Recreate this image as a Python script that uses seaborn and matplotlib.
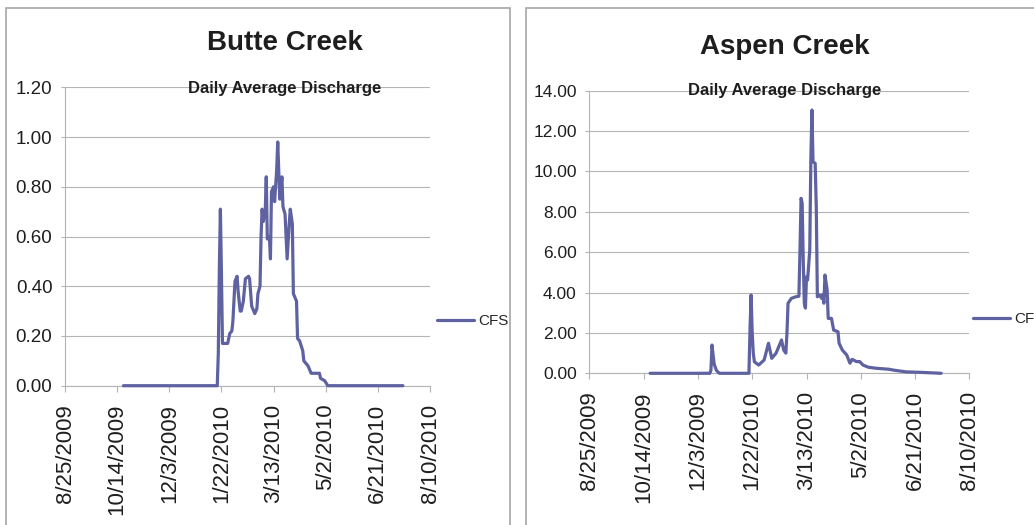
import matplotlib
matplotlib.use('Agg')
import matplotlib.pyplot as plt
from matplotlib.patches import Rectangle
import seaborn as sns
import pandas as pd

# dias desde el 8/25/2009 y caudal medio diario (CFS)
start = pd.Timestamp('2009-08-25')

butte_day = [56, 146, 147, 148, 149, 150, 151, 156, 158, 160, 161, 163, 165, 166, 168,
             169, 171, 173, 176, 177, 179, 182, 184, 185, 187, 188, 189, 190, 192, 193,
             194, 196, 197, 198, 200, 201, 203, 204, 205, 206, 208, 209, 211, 213, 215,
             216, 218, 219, 222, 223, 225, 228, 229, 233, 236, 244, 245, 249, 252, 324]
butte_cfs = [0.00, 0.00, 0.13, 0.47, 0.71, 0.45, 0.17, 0.17, 0.21, 0.22, 0.26, 0.42, 0.44, 0.38, 0.30,
             0.30, 0.34, 0.43, 0.44, 0.43, 0.32, 0.29, 0.31, 0.37, 0.40, 0.60, 0.71, 0.66, 0.70, 0.84,
             0.59, 0.60, 0.51, 0.78, 0.80, 0.74, 0.87, 0.98, 0.86, 0.75, 0.84, 0.72, 0.69, 0.51, 0.65,
             0.71, 0.65, 0.37, 0.34, 0.19, 0.18, 0.14, 0.10, 0.08, 0.05, 0.05, 0.03, 0.02, 0.00, 0.00]

aspen_day = [56, 111, 112, 113, 114, 115, 117, 119, 120, 147, 148, 149, 150, 151, 152,
             156, 161, 165, 168, 172, 177, 179, 181, 182, 183, 186, 190, 193, 194, 195,
             196, 197, 198, 199, 200, 201, 203, 204, 205, 206, 208, 209, 210, 212, 214,
             215, 216, 217, 219, 220, 223, 225, 229, 230, 233, 237, 240, 242, 246, 249,
             252, 257, 264, 276, 281, 292, 304, 324]
aspen_cfs = [0.00, 0.00, 0.15, 1.40, 0.90, 0.45, 0.15, 0.03, 0.00, 0.00, 2.20, 3.88, 2.00, 1.00, 0.57,
             0.41, 0.66, 1.49, 0.74, 1.00, 1.65, 1.15, 1.00, 1.98, 3.47, 3.71, 3.79, 3.82, 6.10, 8.67,
             8.43, 5.60, 3.47, 3.23, 4.78, 4.62, 6.10, 10.57, 13.04, 10.48, 10.40, 8.25, 3.79, 3.88, 3.71,
             3.90, 3.47, 4.87, 4.13, 2.72, 2.72, 2.14, 2.06, 1.49, 1.15, 0.91, 0.50, 0.69, 0.58, 0.58,
             0.41, 0.30, 0.25, 0.20, 0.15, 0.07, 0.05, 0.00]

tick_labels = ['8/25/2009', '10/14/2009', '12/3/2009', '1/22/2010',
               '3/13/2010', '5/2/2010', '6/21/2010', '8/10/2010']
butte_yticks = [0.0, 0.2, 0.4, 0.6, 0.8, 1.0, 1.2]
aspen_yticks = [0, 2, 4, 6, 8, 10, 12, 14]

sns.set_style('white')
plt.rcParams['font.family'] = ['Liberation Sans', 'DejaVu Sans']

W, H = 1034, 525
line_color = '#5f62a1'
grid_color = '#b4b4b4'
text_color = '#1e1e1e'

fig = plt.figure(figsize=(W / 100, H / 100), dpi=100)


def px_box(left, top, right, bottom):
    return [left / W, 1 - bottom / H, (right - left) / W, (bottom - top) / H]


def draw_chart(box, days, cfs, yticks, ysize, title, title_xy, sub_y, legend_xy):
    ax = fig.add_axes(px_box(*box))
    df = pd.DataFrame({'Fecha': start + pd.to_timedelta(days, unit='D'), 'CFS': cfs})
    sns.lineplot(data=df, x='Fecha', y='CFS', ax=ax, color=line_color,
                 linewidth=2.3, label='CFS', clip_on=False, zorder=5)

    ticks = pd.to_datetime(tick_labels, format='%m/%d/%Y')
    ax.set_xlim(ticks[0], ticks[-1])
    ax.set_xticks(ticks)
    ax.set_xticklabels(tick_labels, rotation=90, fontsize=16, va='top', ha='center',
                       color=text_color)
    ax.set_ylim(yticks[0], yticks[-1])
    ax.set_yticks(yticks)
    ax.set_yticklabels([f'{v:.2f}' for v in yticks], fontsize=ysize, color=text_color)
    ax.tick_params(axis='x', length=4, width=0.8, color=grid_color, pad=9, bottom=True)
    ax.tick_params(axis='y', length=3, width=0.8, color=grid_color, pad=6, left=True)
    ax.yaxis.grid(True, color=grid_color, linewidth=0.8)
    ax.set_axisbelow(True)
    for s in ['top', 'right']:
        ax.spines[s].set_visible(False)
    for s in ['left', 'bottom']:
        ax.spines[s].set_color(grid_color)
        ax.spines[s].set_linewidth(0.8)
    ax.set_xlabel('')
    ax.set_ylabel('')

    fig.text(title_xy[0] / W, 1 - title_xy[1] / H, title, ha='center', va='center',
             fontsize=20, fontweight='bold', color=text_color)
    fig.text(title_xy[0] / W, 1 - sub_y / H, 'Daily Average Discharge', ha='center',
             va='center', fontsize=12, fontweight='bold', color=text_color, zorder=10)

    ax.legend(loc='center left', bbox_to_anchor=(legend_xy[0] / W, 1 - legend_xy[1] / H),
              bbox_transform=fig.transFigure, frameon=False, borderpad=0,
              borderaxespad=0, handlelength=2.4, handletextpad=0.3,
              prop={'size': 11})
    return ax


draw_chart((65, 87.3, 430, 385.7), butte_day, butte_cfs, butte_yticks, 13.5,
           'Butte Creek', (285, 43), 89, (437, 321))
draw_chart((589.3, 90.7, 969.4, 373.3), aspen_day, aspen_cfs, aspen_yticks, 12.5,
           'Aspen Creek', (785, 47), 91, (973, 319))

# marcos de los dos graficos
for left, right in [(6, 510), (526, 1060)]:
    fig.patches.append(Rectangle((left / W, -0.2), (right - left) / W, 1.2 - 8 / H,
                                 transform=fig.transFigure, fill=False,
                                 edgecolor='#a6a6a6', linewidth=1.2))

fig.savefig('out.png', dpi=100)
